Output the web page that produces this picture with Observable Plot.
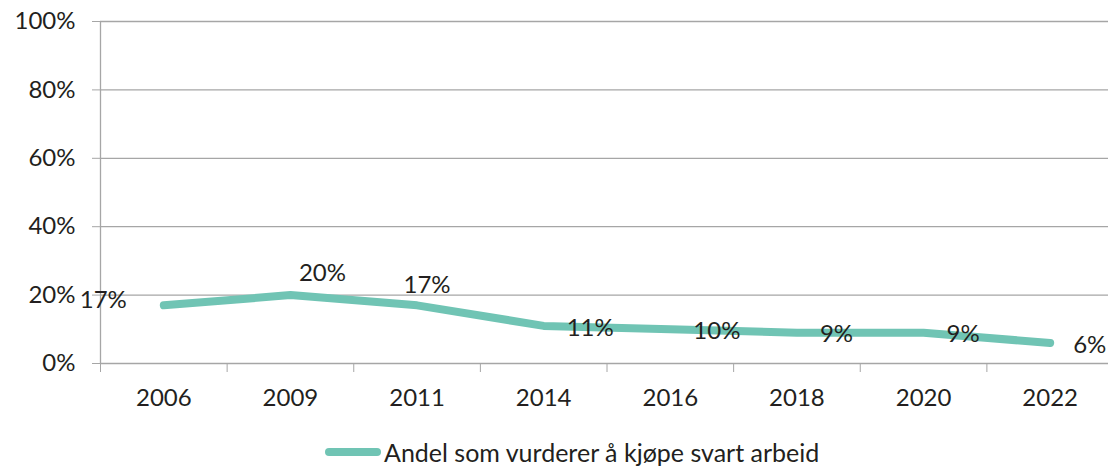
<!DOCTYPE html>
<html><head><meta charset="utf-8">
<script src="https://cdn.jsdelivr.net/npm/d3@7"></script>
<script src="https://cdn.jsdelivr.net/npm/@observablehq/plot@0.6"></script>
<style>
body{margin:0;background:#fff;font-family:Lato,sans-serif;color:#231F20;}
#wrap{position:relative;width:1108px;height:466px;overflow:hidden;}
#legend{position:absolute;top:438px;left:325px;height:28px;display:flex;align-items:center;font-size:25px;line-height:28px;white-space:nowrap;}
#legend .sw{display:inline-block;width:56px;height:8px;border-radius:4px;background:#70C4B4;margin-right:3px;}
</style></head><body>
<div id="wrap"><div id="chart"></div><div id="legend"><span class="sw"></span><span id="legtext"></span></div></div>
<script>
const years = ["2006","2009","2011","2014","2016","2018","2020","2022"];
const values = [17, 20, 17, 11, 10, 9, 9, 6];
const seriesName = "Andel som vurderer å kjøpe svart arbeid";
const yTicks = [0, 20, 40, 60, 80, 100];

const data = years.map((year, i) => ({year, pos: i + 0.5, value: values[i]}));
const pick = ys => data.filter(d => ys.includes(d.year));
const leftLabels = pick(["2006"]);
const upRightLabels = pick(["2009"]);
const upLabels = pick(["2011"]);
const rightLabels = data.filter(d => !["2006","2009","2011"].includes(d.year));
const fmt = d => d.value + "%";
const ink = "#231F20", grid = "#A6A6A6", lineColor = "#70C4B4";
const fs = 24;

document.getElementById("legtext").textContent = seriesName;

const chart = Plot.plot({
  width: 1108,
  height: 430,
  marginLeft: 100,
  marginRight: 0,
  marginTop: 21,
  marginBottom: 67,
  style: {fontFamily: "Lato, sans-serif", color: ink, background: "#fff", overflow: "visible"},
  x: {type: "linear", domain: [0, years.length], range: [100, 1113]},
  y: {domain: [0, 100], range: [363, 21]},
  marks: [
    Plot.ruleY(yTicks, {y: d => d, stroke: grid, strokeWidth: 1.3}),
    Plot.ruleX([0], {x: d => d, y1: 0, y2: 100, stroke: grid, strokeWidth: 1.3}),
    Plot.axisY({ticks: yTicks, tickFormat: d => d + "%", tickSize: 8, tickPadding: 17, fontSize: fs, stroke: grid, fill: ink, label: null}),
    Plot.axisX({ticks: d3.range(0, years.length + 1), tickFormat: () => "", tickSize: 9, stroke: grid, label: null}),
    Plot.axisX({ticks: data.map(d => d.pos), tickFormat: p => years[Math.floor(p)], tickSize: 0, tickPadding: 25, fontSize: fs, fill: ink, label: null}),
    Plot.line(data, {x: "pos", y: "value", stroke: lineColor, strokeWidth: 8, strokeLinecap: "round", strokeLinejoin: "round"}),
    Plot.text(leftLabels, {x: "pos", y: "value", text: fmt, textAnchor: "end", dx: -37, dy: -5, fontSize: fs, fill: ink}),
    Plot.text(upRightLabels, {x: "pos", y: "value", text: fmt, textAnchor: "middle", dx: 32, dy: -22, fontSize: fs, fill: ink}),
    Plot.text(upLabels, {x: "pos", y: "value", text: fmt, textAnchor: "middle", dx: 10, dy: -20, fontSize: fs, fill: ink}),
    Plot.text(rightLabels, {x: "pos", y: "value", text: fmt, textAnchor: "start", dx: 23, dy: 2, fontSize: fs, fill: ink})
  ]
});
document.getElementById("chart").appendChild(chart);
</script>
</body></html>
